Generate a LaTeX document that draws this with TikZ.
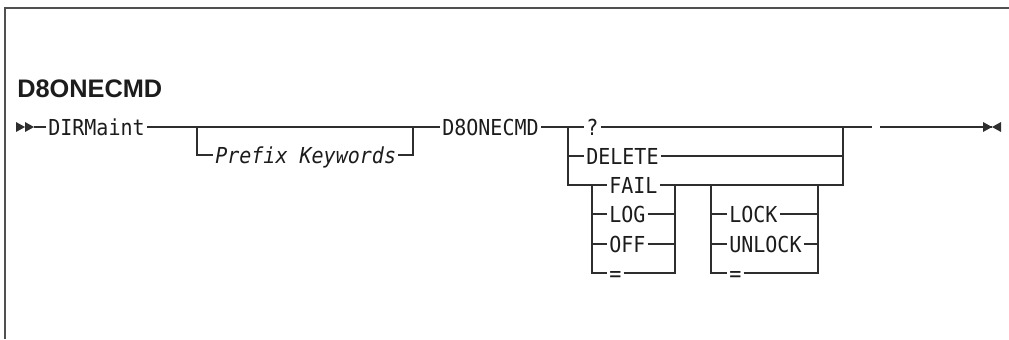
\documentclass[tikz,border=0pt]{standalone}
\usepackage{fontspec}
\newfontfamily\railfont[FakeStretch=0.91]{DejaVu Sans Mono}
\newfontfamily\headfont{Liberation Sans}
\usepackage{xcolor}
\definecolor{railcolor}{HTML}{2e2e2e}
\definecolor{framecolor}{HTML}{505050}
\definecolor{textcolor}{HTML}{1c1c1c}
\usepackage{tikz}
\usetikzlibrary{positioning,calc}
\tikzset{
    keyword/.style={
        font=\railfont\fontsize{16.5pt}{18pt}\selectfont,
        text=textcolor,
        inner xsep=1.5pt,
        inner ysep=0pt,
        text height=12pt,
        text depth=0pt,
        anchor=west,
    },
    varword/.style={
        keyword,
        font=\railfont\itshape\fontsize{16.5pt}{18pt}\selectfont,
    },
    heading/.style={
        font=\headfont\bfseries\fontsize{19pt}{22pt}\selectfont,
        text=textcolor,
        inner sep=0pt,
        text height=13.6pt,
        text depth=0pt,
        anchor=west,
    },
    rail/.style={
        draw=railcolor,
        line width=0.9pt,
    },
    heavyrail/.style={
        draw=railcolor,
        line width=1.5pt,
    },
    frame/.style={
        draw=framecolor,
        line width=1.3pt,
    },
}

\begin{document}
\begin{tikzpicture}[x=0.75pt,y=-0.75pt]
    \useasboundingbox (0,0) rectangle (1009,339);
    \draw[frame] (5,339) -- (5,8) -- (1009,8);
    \node[heading] (title) at (17,88) {D8ONECMD};

    % main line
    \coordinate (begin) at (34,127);
    \fill[railcolor] (begin) -- ++(-9,-5) -- ++(0,10) -- cycle;
    \fill[railcolor] ([xshift=-6.75pt]begin) -- ++(-9,-5) -- ++(0,10) -- cycle;
    \node[keyword] (dirmaint) at (46,127) {DIRMaint};
    \coordinate (pfxin) at (197,127);
    \coordinate (pfxout) at (413,127);
    \node[varword] (prefix) at (213,155) {Prefix Keywords};
    \node[keyword] (cmd) at (440,127) {D8ONECMD};
    \coordinate (chl) at (568,127);
    \coordinate (chr) at (843,127);
    \node[keyword] (query) at (584,127) {?};
    \node[keyword] (delete) at (584,156) {DELETE};

    % option groups
    \coordinate (optl) at (592,185);
    \coordinate (optr) at (675,185);
    \node[keyword] (fail) at (607,185) {FAIL};
    \node[keyword] (log) at (607,214) {LOG};
    \node[keyword] (off) at (607,244) {OFF};
    \node[keyword] (eqopt) at (607,273) {=};
    \coordinate (lckl) at (711,185);
    \coordinate (lckr) at (818,185);
    \node[keyword] (lock) at (727,214) {LOCK};
    \node[keyword] (unlock) at (727,244) {UNLOCK};
    \node[keyword] (eqlck) at (727,273) {=};

    \coordinate (dash) at (850,127);
    \coordinate (gapl) at (872,127);
    \coordinate (gapr) at (880,127);
    \coordinate (finish) at (992,127);

    \draw[rail] (begin) -- (dirmaint.west);
    \draw[rail] (dirmaint.east) -- (cmd.west);
    \draw[rail] (pfxin) |- (prefix.west);
    \draw[rail] (prefix.east) -| (pfxout);
    \draw[rail] (cmd.east) -- (query.west);
    \draw[rail] (query.east) -- (gapl);
    \draw[heavyrail] (dash) -- (gapl);
    \draw[rail] (chl) |- (delete.west);
    \draw[rail] (delete.east) -| (chr);
    \draw[rail] (chl) |- (optl) -- (fail.west);
    \draw[rail] (fail.east) -- (optr) -- (lckl) -- (lckr) -| (chr);

    \draw[rail] (optl) |- (eqopt.west);
    \draw[rail] (optl |- log) -- (log.west);
    \draw[rail] (optl |- off) -- (off.west);
    \draw[rail] (eqopt.east) -| (optr);
    \draw[rail] (log.east) -- (optr |- log);
    \draw[rail] (off.east) -- (optr |- off);

    \draw[rail] (lckl) |- (eqlck.west);
    \draw[rail] (lckl |- lock) -- (lock.west);
    \draw[rail] (lckl |- unlock) -- (unlock.west);
    \draw[rail] (eqlck.east) -| (lckr);
    \draw[rail] (lock.east) -- (lckr |- lock);
    \draw[rail] (unlock.east) -- (lckr |- unlock);

    \draw[rail] (gapr) -- (finish);
    \fill[railcolor] (finish) -- ++(-9,-5) -- ++(0,10) -- cycle;
    \fill[railcolor] (finish) -- ++(9,-5) -- ++(0,10) -- cycle;
\end{tikzpicture}
\end{document}
